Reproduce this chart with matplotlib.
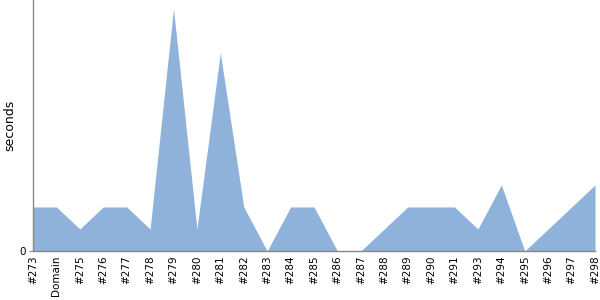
import matplotlib
matplotlib.use("Agg")
import matplotlib.pyplot as plt

labels = ["#273", "Domain", "#275", "#276", "#277", "#278", "#279", "#280",
          "#281", "#282", "#283", "#284", "#285", "#286", "#287", "#288",
          "#289", "#290", "#291", "#293", "#294", "#295", "#296", "#297",
          "#298"]
seconds = [2, 2, 1, 2, 2, 1, 11, 1, 9, 2, 0, 2, 2, 0, 0, 1, 2, 2, 2, 1, 3,
           0, 1, 2, 3]

fig = plt.figure(figsize=(6, 3), dpi=100)
ax = fig.add_axes([33 / 600, 49 / 300, 562 / 600, 251 / 300])

x = list(range(len(labels)))
ax.fill_between(x, 0, seconds, color="#8fb2db", linewidth=0)

ax.set_xlim(0, len(labels) - 1)
ax.set_ylim(0, 11.4)
ax.set_xticks(x)
ax.set_xticklabels(labels, rotation=90, fontsize=7.5)
ax.set_yticks([0])
ax.set_yticklabels(["0"], fontsize=7.5)
ax.tick_params(axis="x", length=0, pad=3)
ax.tick_params(axis="y", length=3, color="#888888", pad=2)
ax.set_ylabel("seconds", fontsize=9)
ax.yaxis.set_label_coords(-0.029, 0.5)

for s in ["top", "right"]:
    ax.spines[s].set_visible(False)
for s in ["left", "bottom"]:
    ax.spines[s].set_color("#888888")
    ax.spines[s].set_linewidth(1)

fig.savefig("out.png", dpi=100)
